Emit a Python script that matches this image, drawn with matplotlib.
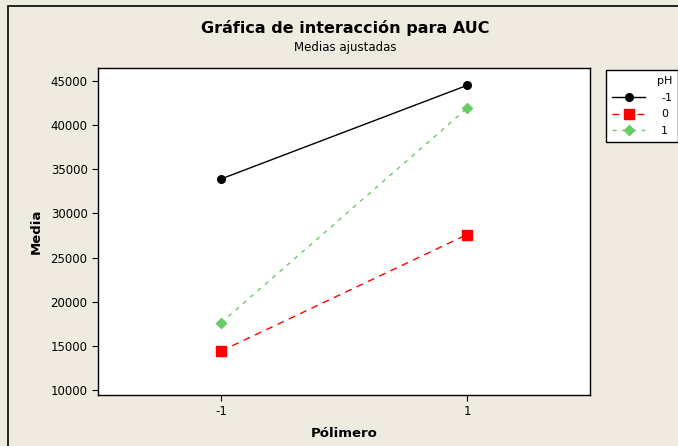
import matplotlib
matplotlib.use("Agg")
import matplotlib.pyplot as plt
from matplotlib.patches import Rectangle

# ── data (adjusted means of AUC) ──
polimero = [-1, 1]
ph_levels = ["-1", "0", "1"]
auc_ph_m1 = [33900, 44500]
auc_ph_0 = [14400, 27600]
auc_ph_1 = [17600, 41900]
yticks = [10000, 15000, 20000, 25000, 30000, 35000, 40000, 45000]

BG = "#F0EBE1"
plt.rcParams["font.family"] = ["DejaVu Sans"]

fig = plt.figure(figsize=(6.78, 4.46), dpi=100, facecolor=BG)
# outer frame of the graph window
fig.patches.append(Rectangle((8 / 678, -0.01), 1.0, 1 - 6 / 446 + 0.01, transform=fig.transFigure,
                             fill=False, edgecolor="black", lw=1.2))

ax = fig.add_axes([98 / 678, 1 - 395 / 446, (590 - 98) / 678, (395 - 68) / 446])
ax.set_facecolor("white")

styles = [
    (auc_ph_m1, dict(color="black", ls="-", marker="o", ms=5.5)),
    (auc_ph_0, dict(color="red", ls=(0, (5, 4)), marker="s", ms=6.5)),
    (auc_ph_1, dict(color="#66CC66", ls=(0, (3, 4)), marker="D", ms=5.5)),
]
handles = []
for (vals, st), lab in zip(styles, ph_levels):
    h, = ax.plot(polimero, vals, lw=1.0, label=lab, **st)
    handles.append(h)

ax.set_xlim(-2.0, 2.0)
ax.set_ylim(9430, 46470)
ax.set_xticks(polimero)
ax.set_xticklabels(["-1", "1"])
ax.set_yticks(yticks)
ax.tick_params(labelsize=8.5, length=4, color="black")
for s in ax.spines.values():
    s.set_linewidth(1.0)

ax.set_xlabel("Pólimero", fontsize=9.5, fontweight="bold", labelpad=6)
ax.set_ylabel("Media", fontsize=9.5, fontweight="bold", labelpad=6)

fig.text(345 / 678, 1 - 28 / 446, "Gráfica de interacción para AUC", ha="center", va="center",
         fontsize=11.5, fontweight="bold")
fig.text(345 / 678, 1 - 47 / 446, "Medias ajustadas", ha="center", va="center", fontsize=8.5)

leg = fig.legend(handles=handles, labels=ph_levels, title="pH", loc="upper left",
                 bbox_to_anchor=(606 / 678, 1 - 70 / 446), borderaxespad=0,
                 fontsize=8, title_fontsize=8,
                 frameon=True, fancybox=False, edgecolor="black", facecolor="white", framealpha=1,
                 handlelength=3.0, handletextpad=1.4, borderpad=0.55, labelspacing=0.6,
                 alignment="right")
leg.get_frame().set_linewidth(1.0)

fig.savefig("out.png", dpi=100, facecolor=BG)
